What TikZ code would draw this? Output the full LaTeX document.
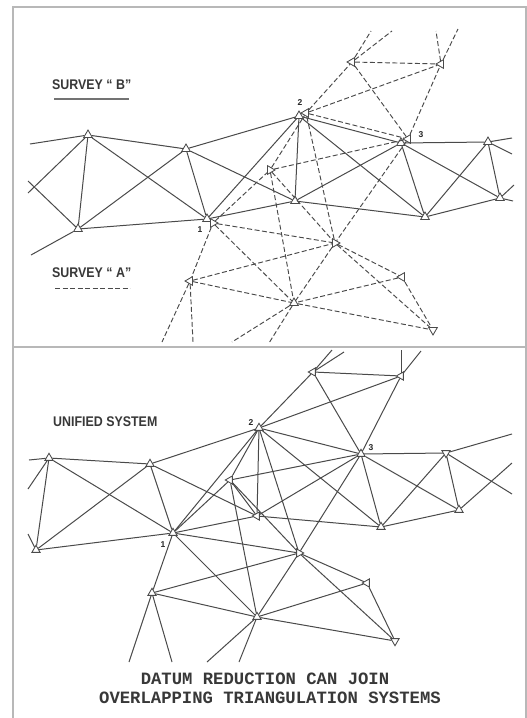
\documentclass[tikz,border=0pt]{standalone}
\usepackage{fontspec}
\setmainfont{Liberation Sans}
\newfontfamily\capfont{Liberation Mono}
\usetikzlibrary{shapes.geometric}
\definecolor{ink}{HTML}{4A4A4A}
\tikzset{
  tri/.style={regular polygon,regular polygon sides=3,draw=ink,line width=0.85pt,inner sep=0pt,minimum size=10pt,fill=white,shape border rotate=#1},
  tri/.default=0,
  sline/.style={draw=ink,line width=1pt},
  dline/.style={draw=ink,line width=0.95pt,dash pattern=on 5pt off 2.5pt},
  frameline/.style={draw=black!28,line width=1.2pt},
  lab/.style={font=\bfseries\fontsize{14}{16}\selectfont,text=black!78,inner sep=0pt,anchor=west,xscale=0.887},
  num/.style={font=\bfseries\fontsize{8.5}{10}\selectfont,text=black!85,inner sep=0pt},
  captxt/.style={font=\capfont\bfseries\fontsize{17.25}{21}\selectfont,text=black!78,inner sep=0pt}
}
\begin{document}
\begin{tikzpicture}[x=1pt,y=-1pt]
\useasboundingbox (0,0) rectangle (527,718);
\fill[white] (0,0) rectangle (527,718);
% frames
\coordinate (f1) at (13,7); \coordinate (f2) at (526,7); \coordinate (f3) at (526,718);
\coordinate (f4) at (13,718); \coordinate (f5) at (13,347); \coordinate (f6) at (526,347);
\draw[frameline] (f4) -- (f1) -- (f2) -- (f3);
\draw[frameline] (f5) -- (f6);
% survey B nodes
\foreach \n/\x/\y in {ba/88/135,bb/186/149,bc/78/229,bd/207/219,be/299/116,bf/295/201,bg/401/143,bh/425/217,bi/488/142,bj/500/198}
  \node[tri] (\n) at (\x,\y) {};
% survey A nodes
\foreach \n/\x/\y/\r in {aa/213/223/30,ab/190/281/90,ac/306/113/90,ad/352/62/90,ae/441/64/90,af/408/139/90,ag/270/170/30,ah/335/243/30,ai/402/277/90,aj/294/303/0,ak/433/330/60}
  \node[tri=\r] (\n) at (\x,\y) {};
% free ends top
\foreach \n/\x/\y in {p1/30/144,p2/28/181,p3/28/193,p4/31/255,p5/512/138,p6/512/154,p7/513/201,p8/514/185,
 q1/371/31,q2/392/31,q3/436/31,q4/458/29,q5/162/342,q6/193/342,q7/232/342,q8/269/343}
  \coordinate (\n) at (\x,\y);
\foreach \a/\b in {p1/ba,p2/bc,p3/ba,p4/bc,ba/bb,ba/bc,ba/bd,bb/bc,bb/bd,bb/bf,bb/be,bc/bd,bd/be,bd/bf,be/bf,be/bg,be/bh,bf/bg,bf/bh,bg/bh,bg/bi,bg/bj,bh/bi,bh/bj,bi/bj,bi/p5,bi/p6,bj/p7,bj/p8}
  \draw[sline] (\a) -- (\b);
\foreach \a/\b in {aa/ab,aa/ag,ag/ac,aa/ah,aa/aj,ac/ad,ac/ae,ac/af,ac/ah,ag/ah,ag/aj,ag/af,af/ah,af/ad,af/ae,ad/ae,ad/q1,ad/q2,ae/q3,ae/q4,ah/aj,ah/ai,ah/ak,ai/aj,ai/ak,aj/ak,ab/ah,ab/aj,ab/q5,ab/q6,aj/q7,aj/q8}
  \draw[dline] (\a) -- (\b);
% top labels
\node[lab] (lb) at (52,85) {SURVEY “ B”};
\coordinate (lb1) at (54,99); \coordinate (lb2) at (129,99);
\draw[draw=black!55,line width=1.4pt] (lb1) -- (lb2);
\node[lab] (la) at (52,273) {SURVEY “ A”};
\coordinate (la1) at (55,288); \coordinate (la2) at (130,288);
\draw[dline] (la1) -- (la2);
\node[num] (n1) at (200,230) {1};
\node[num] (n2) at (300,103) {2};
\node[num] (n3) at (421,135) {3};
% unified nodes
\foreach \n/\x/\y/\r in {ua/49/458/0,ub/150/464/0,uc/36/550/0,ud/173/533/0,ue/259/428/0,uf/257/516/90,ug/230/480/90,uh/361/454/0,ui/313/372/90,uj/401/376/90,uk/381/527/0,ul/446/453/60,um/459/510/0,un/299/553/30,uo/367/583/90,up/395/641/60,uq/257/617/0,ur/152/593/0}
  \node[tri=\r,minimum size=9.5pt] (\n) at (\x,\y) {};
\foreach \n/\x/\y in {r1/29/460,r2/28/489,r3/28/534,r4/512/434,r5/512/494,r6/512/463,r7/332/350,r8/344/352,r9/401/350,r10/421/351,r11/129/662,r12/172/662,r13/207/662,r14/239/662}
  \coordinate (\n) at (\x,\y);
\foreach \a/\b in {r1/ua,r2/ua,r3/uc,ua/uc,ua/ub,ua/ud,ub/uc,ub/ue,ub/uf,ub/ud,uc/ud,ud/ue,ud/ug,ug/ue,ud/uf,ue/uf,ue/uh,ue/uk,uf/uh,uf/uk,uh/uk,uh/ul,uh/um,uk/ul,uk/um,ul/um,ul/r4,ul/r5,um/r6,
 ug/uh,ug/uf,ug/un,ug/uq,ue/ui,ue/uj,ue/un,uh/ui,uh/uj,uh/un,ui/uj,ui/r7,ui/r8,uj/r9,uj/r10,ud/un,ud/uq,ud/ur,un/uq,un/uo,un/up,uo/uq,uo/up,uq/up,ur/un,ur/uq,ur/r11,ur/r12,uq/r13,uq/r14}
  \draw[sline] (\a) -- (\b);
\node[lab] (lu) at (53,422) {UNIFIED SYSTEM};
\node[num] (m1) at (163,545) {1};
\node[num] (m2) at (251,423) {2};
\node[num] (m3) at (371,448) {3};
\node[captxt] (c1) at (265,679) {DATUM REDUCTION CAN JOIN};
\node[captxt] (c2) at (270,698) {OVERLAPPING TRIANGULATION SYSTEMS};
\end{tikzpicture}
\end{document}
